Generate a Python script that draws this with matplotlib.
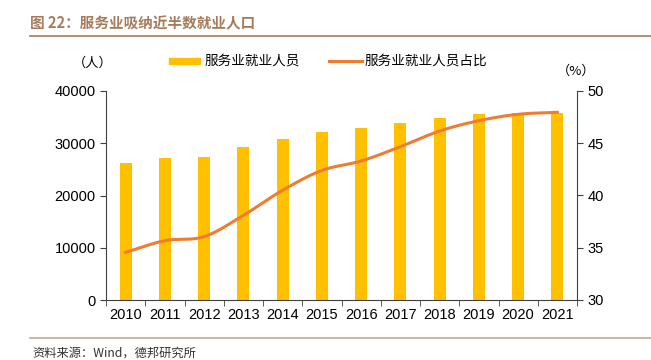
import numpy as np
import matplotlib.pyplot as plt
from matplotlib.lines import Line2D

plt.rcParams['font.family'] = ['Liberation Sans', 'Noto Sans CJK SC', 'DejaVu Sans']

years = ['2010', '2011', '2012', '2013', '2014', '2015',
         '2016', '2017', '2018', '2019', '2020', '2021']
workers = [26220, 27120, 27370, 29280, 30810, 32150,
           32920, 33870, 34830, 35540, 35730, 35790]
share = [34.56, 35.68, 36.06, 38.1, 40.5, 42.4,
         43.3, 44.67, 46.17, 47.16, 47.77, 47.96]

bar_color = '#FFC000'
line_color = '#ED7D31'
brown = '#A67B5B'
cjk = ['Noto Sans CJK SC', 'DejaVu Sans']


def smooth(x, y, n=20):
    # catmull-rom style smoothing, like excel's smoothed line
    x = np.asarray(x, float)
    y = np.asarray(y, float)
    m = np.gradient(y, x)
    xs, ys = [], []
    for i in range(len(x) - 1):
        h = x[i + 1] - x[i]
        t = np.linspace(0, 1, n, endpoint=False)
        h00 = 2 * t**3 - 3 * t**2 + 1
        h10 = t**3 - 2 * t**2 + t
        h01 = -2 * t**3 + 3 * t**2
        h11 = t**3 - t**2
        xs.append(x[i] + t * h)
        ys.append(h00 * y[i] + h10 * h * m[i] + h01 * y[i + 1] + h11 * h * m[i + 1])
    xs.append([x[-1]])
    ys.append([y[-1]])
    return np.concatenate(xs), np.concatenate(ys)


fig = plt.figure(figsize=(6.51, 3.6), dpi=100)
ax = fig.add_axes([106 / 651, 60 / 360, 471 / 651, 209 / 360])
x = np.arange(len(years))
ax.bar(x, workers, width=0.31, color=bar_color, zorder=2)
ax.set_xlim(-0.5, len(years) - 0.5)
ax.set_ylim(0, 40000)
ax.set_yticks([0, 10000, 20000, 30000, 40000])
ax.set_xticks(x)
ax.set_xticklabels(years)
ax.set_xticks(np.arange(-0.5, len(years), 1), minor=True)
ax.tick_params(axis='x', which='major', length=0, pad=6, labelsize=10.5)
ax.tick_params(axis='x', which='minor', length=4, color='#404040')
ax.tick_params(axis='y', length=4, labelsize=10.5, color='#404040')
for s in ['top', 'right']:
    ax.spines[s].set_visible(False)
ax.spines['left'].set_color('#404040')
ax.spines['bottom'].set_color('#404040')

ax2 = ax.twinx()
sx, sy = smooth(x, share)
ax2.plot(sx, sy, color=line_color, lw=2.2, zorder=3)
ax2.set_ylim(30, 50)
ax2.set_yticks([30, 35, 40, 45, 50])
ax2.tick_params(axis='y', length=4, labelsize=10.5, color='#404040')
for s in ['top', 'left', 'bottom']:
    ax2.spines[s].set_visible(False)
ax2.spines['right'].set_color('#404040')

# title and rules
fig.text(30 / 651, 1 - 23 / 360, '图 22：服务业吸纳近半数就业人口', color=brown,
         fontsize=10.5, fontweight='bold', va='center', family=cjk)
fig.add_artist(Line2D([30 / 651, 1], [1 - 36 / 360] * 2, color=brown, lw=1.2))
fig.add_artist(Line2D([30 / 651, 1], [1 - 338 / 360] * 2, color='#C8A88C', lw=1.2))
fig.text(32 / 651, 1 - 353 / 360, '资料来源：Wind，德邦研究所', fontsize=8.8,
         va='center', family=cjk, color='#333333')

# axis unit labels
fig.text(93 / 651, 1 - 63 / 360, '（人）', fontsize=9.5, ha='center', va='center', family=cjk)
fig.text(576 / 651, 1 - 71 / 360, '（%）', fontsize=9.5, ha='center', va='center', family=cjk)

# legend
fig.add_artist(plt.Rectangle((169 / 651, 1 - 64 / 360), 31 / 651, 6 / 360,
                             color=bar_color, transform=fig.transFigure))
fig.text(205 / 651, 1 - 61 / 360, '服务业就业人员', fontsize=9.8, va='center', family=cjk)
fig.add_artist(Line2D([329 / 651, 362 / 651], [1 - 61 / 360] * 2, color=line_color, lw=2.2))
fig.text(365 / 651, 1 - 61 / 360, '服务业就业人员占比', fontsize=9.8, va='center', family=cjk)

fig.savefig('out.png', dpi=100)
